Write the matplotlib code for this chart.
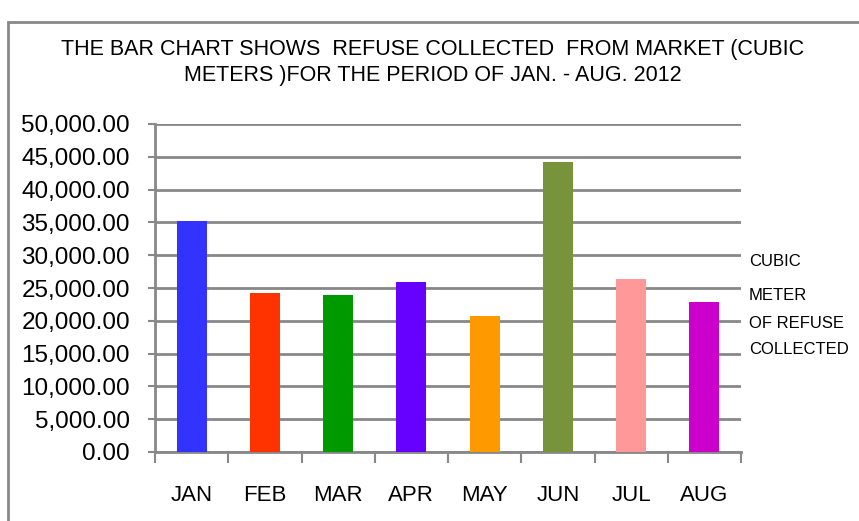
import matplotlib.pyplot as plt
from matplotlib.patches import Rectangle
import numpy as np

months = ["JAN", "FEB", "MAR", "APR", "MAY", "JUN", "JUL", "AUG"]
refuse = [35200, 24300, 23900, 25900, 20800, 44200, 26300, 22800]
colors = ["#3333ff", "#ff3300", "#009900", "#6600ff", "#ff9900", "#77933c", "#ff9999", "#cc00cc"]

plt.rcParams['font.family'] = ['Liberation Sans', 'DejaVu Sans']

fig = plt.figure(figsize=(8.59, 5.21), dpi=100)
ax = fig.add_axes([155/859, 1 - 452/521, 586/859, 328/521])

x = np.arange(len(months))
ax.bar(x, refuse, width=0.41, color=colors, zorder=3)

ax.set_xlim(-0.5, len(months) - 0.5)
ax.set_ylim(0, 50000)
ax.set_yticks(np.arange(0, 50001, 5000))
ax.set_yticklabels([f"{v:,.2f}" for v in np.arange(0, 50001, 5000)], fontsize=17.5)
ax.set_xticks(x)
ax.set_xticklabels(months, fontsize=16)
ax.set_xticks(np.arange(-0.5, len(months)), minor=True)
ax.tick_params(axis='x', which='major', length=0, pad=24)
ax.tick_params(axis='x', which='minor', length=8, width=1.5, color='#888888', direction='out')
ax.tick_params(axis='y', length=5, width=1.5, color='#888888', pad=13)

ax.grid(axis='y', color='#888888', linewidth=2, zorder=0)
for s in ['top', 'right']:
    ax.spines[s].set_visible(False)
ax.spines['left'].set_color('#888888')
ax.spines['left'].set_linewidth(2)
ax.spines['bottom'].set_color('#888888')
ax.spines['bottom'].set_linewidth(2)

fig.text(433/859, 1 - 50/521, "THE BAR CHART SHOWS  REFUSE COLLECTED  FROM MARKET (CUBIC",
         ha='center', va='center', fontsize=15.5)
fig.text(433/859, 1 - 76/521, "METERS )FOR THE PERIOD OF JAN. - AUG. 2012",
         ha='center', va='center', fontsize=15.5)

for txt, yy in [("CUBIC", 261), ("METER", 295), ("OF REFUSE", 323), ("COLLECTED", 350)]:
    fig.text(749/859, 1 - yy/521, txt, ha='left', va='center', fontsize=12)

fig.patches.append(Rectangle((8/859, -0.1), 1.2, 1.1 - 22/521, transform=fig.transFigure,
                             fill=False, edgecolor='#888888', linewidth=2))

fig.savefig("out.png", dpi=100)
